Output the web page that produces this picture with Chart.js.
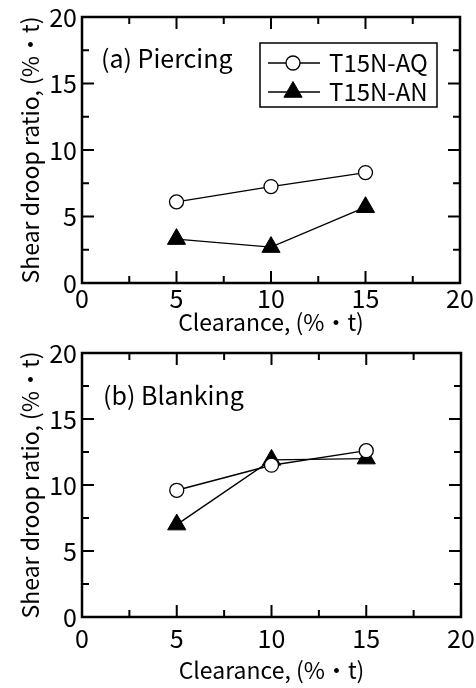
<!DOCTYPE html>
<html>
<head>
<meta charset="utf-8">
<script src="https://cdn.jsdelivr.net/npm/chart.js@4"></script>
<style>
  body { margin: 0; background: #fff; }
  canvas { position: absolute; left: 0; }
  #top { top: 0; }
  #bottom { top: 340px; }
</style>
</head>
<body>
<canvas id="top" width="476" height="340"></canvas>
<canvas id="bottom" width="476" height="348"></canvas>
<script>
// values
const clearance = [5, 10, 15];
const piercingAQ = [6.1, 7.25, 8.3];
const piercingAN = [3.3, 2.7, 5.7];
const blankingAQ = [9.6, 11.5, 12.6];
const blankingAN = [7.0, 11.9, 12.0];
const seriesNames = ['T15N-AQ', 'T15N-AN'];

const FONT = '"Noto Sans CJK JP", "Noto Sans", sans-serif';
Chart.defaults.font.family = FONT;
Chart.defaults.color = '#000';

function points(ys) {
  return clearance.map((x, i) => ({x: x, y: ys[i]}));
}

// frame + inward ticks on all four sides
const framePlugin = {
  id: 'frame',
  afterDraw(chart) {
    const ctx = chart.ctx;
    const {left, right, top, bottom} = chart.chartArea;
    const xs = chart.scales.x, ys = chart.scales.y;
    ctx.save();
    ctx.strokeStyle = '#000';
    ctx.lineWidth = 2;
    for (let v = 2.5; v < 20; v += 2.5) {
      let len = (v % 5 === 0) ? 12 : 7;
      let px = xs.getPixelForValue(v);
      let py = ys.getPixelForValue(v);
      ctx.beginPath();
      ctx.moveTo(px, bottom); ctx.lineTo(px, bottom - len);
      ctx.moveTo(px, top); ctx.lineTo(px, top + len);
      ctx.moveTo(left, py); ctx.lineTo(left + len, py);
      ctx.moveTo(right, py); ctx.lineTo(right - len, py);
      ctx.stroke();
    }
    ctx.lineWidth = 2.5;
    ctx.strokeRect(left, top, right - left, bottom - top);
    ctx.restore();
  }
};

// panel label and boxed legend
const notesPlugin = {
  id: 'notes',
  afterDraw(chart, args, opts) {
    const ctx = chart.ctx;
    ctx.save();
    ctx.fillStyle = '#000';
    ctx.font = '25px ' + FONT;
    ctx.textBaseline = 'middle';
    ctx.textAlign = 'left';
    ctx.fillText(opts.label, opts.labelX, opts.labelY);
    if (opts.legend) {
      ctx.lineWidth = 1.5;
      ctx.strokeStyle = '#000';
      ctx.strokeRect(260, 43, 177, 64);
      const rows = [63, 92];
      chart.data.datasets.forEach((ds, i) => {
        let y = rows[i];
        ctx.strokeStyle = '#000';
        ctx.lineWidth = 1.3;
        ctx.beginPath();
        ctx.moveTo(268, y); ctx.lineTo(320, y);
        ctx.stroke();
        ctx.fillStyle = ds.pointBackgroundColor;
        ctx.lineWidth = ds.pointBorderWidth;
        Chart.helpers.drawPoint(ctx, {
          pointStyle: ds.pointStyle,
          radius: ds.pointRadius,
          borderWidth: ds.pointBorderWidth
        }, 293, y);
        ctx.fillStyle = '#000';
        ctx.font = '24px ' + FONT;
        ctx.fillText(seriesNames[i], 329, y);
      });
    }
    ctx.restore();
  }
};

function makeChart(id, aq, an, opts) {
  const datasets = [
    {
      label: seriesNames[0],
      data: points(aq),
      showLine: true,
      borderColor: '#000',
      borderWidth: 1.4,
      pointStyle: 'circle',
      pointRadius: 7,
      pointBorderWidth: 1.3,
      pointBackgroundColor: '#fff',
      pointBorderColor: '#000'
    },
    {
      label: seriesNames[1],
      data: points(an),
      showLine: true,
      borderColor: '#000',
      borderWidth: 1.4,
      pointStyle: 'triangle',
      pointRadius: 10.5,
      pointBorderWidth: 1,
      pointBackgroundColor: '#000',
      pointBorderColor: '#000'
    }
  ];

  return new Chart(document.getElementById(id), {
    type: 'scatter',
    data: {datasets: datasets},
    plugins: [framePlugin, notesPlugin],
    options: {
      responsive: false,
      animation: false,
      layout: {padding: {top: opts.top, right: opts.right, left: 0, bottom: 0}},
      plugins: {
        legend: {display: false},
        tooltip: {enabled: false},
        notes: opts.notes
      },
      scales: {
        x: {
          type: 'linear',
          min: 0, max: 20,
          grid: {display: false, drawTicks: false},
          border: {display: false},
          ticks: {stepSize: 5, padding: opts.xTickPad, font: {size: 25}, maxRotation: 0},
          title: {display: true, text: 'Clearance, (%・t)', font: {size: 23}, padding: {top: 0, bottom: 4}},
          afterFit(s) { s.height = opts.xHeight; s.paddingLeft = 0; s.paddingRight = 0; }
        },
        y: {
          min: 0, max: 20,
          grid: {display: false, drawTicks: false},
          border: {display: false},
          ticks: {stepSize: 5, padding: 5, font: {size: 25}},
          title: {display: true, text: 'Shear droop ratio, (%・t)', font: {size: 23}, padding: {top: 16, bottom: 0}},
          afterFit(s) { s.width = 82; s.paddingTop = 0; s.paddingBottom = 0; }
        }
      }
    }
  });
}

makeChart('top', piercingAQ, piercingAN, {
  top: 17, right: 16, xHeight: 57, xTickPad: 0,
  notes: {label: '(a) Piercing', labelX: 101, labelY: 58, legend: true}
});
makeChart('bottom', blankingAQ, blankingAN, {
  top: 13, right: 15, xHeight: 71, xTickPad: 6,
  notes: {label: '(b) Blanking', labelX: 103, labelY: 55, legend: false}
});
</script>
</body>
</html>
